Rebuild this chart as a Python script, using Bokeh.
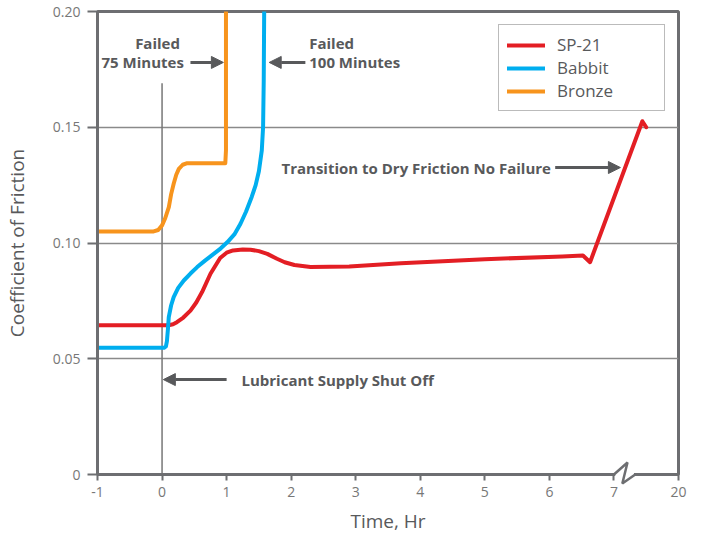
from bokeh.plotting import figure
from bokeh.models import (Range1d, FixedTicker, Legend, LegendItem, Label, Arrow,
                          NormalHead)
from bokeh.embed import file_html
from bokeh.resources import INLINE

# ---------------- data ----------------
sp21_x = [-1, 0.10, 0.17, 0.23, 0.33, 0.44, 0.53, 0.62, 0.75, 0.90, 1.00, 1.10, 1.25, 1.37,
          1.50, 1.63, 1.78, 1.90, 2.05, 2.30, 2.90, 3.70, 5.00, 6.20, 6.52, 6.63, 7.44, 7.50]
sp21_y = [0.0645, 0.0645, 0.0649, 0.0658, 0.0678, 0.0708, 0.0743, 0.0788, 0.0867, 0.0935,
          0.0958, 0.0968, 0.0972, 0.0971, 0.0965, 0.0953, 0.0932, 0.0917, 0.0905, 0.0896,
          0.0898, 0.0913, 0.0930, 0.0942, 0.0946, 0.0917, 0.1526, 0.1500]

babbit_x = [-1, 0.03, 0.06, 0.075, 0.09, 0.104, 0.14, 0.18, 0.25, 0.337, 0.44, 0.544, 0.67,
            0.80, 0.91, 1.01, 1.12, 1.215, 1.30, 1.39, 1.45, 1.50, 1.545, 1.565, 1.575, 1.582]
babbit_y = [0.0547, 0.0547, 0.0553, 0.0575, 0.0625, 0.0680, 0.0730, 0.0766, 0.0806, 0.0838,
            0.0868, 0.0896, 0.0925, 0.0953, 0.0977, 0.1003, 0.1037, 0.1083, 0.1135, 0.1200,
            0.1250, 0.1310, 0.1400, 0.1500, 0.1700, 0.2000]

bronze_x = [-1, -0.13, -0.06, 0.0, 0.05, 0.105, 0.14, 0.18, 0.22, 0.26, 0.32, 0.39, 0.98, 0.99, 0.99]
bronze_y = [0.1050, 0.1050, 0.1056, 0.1076, 0.1108, 0.1155, 0.1210, 0.1256, 0.1295, 0.1320,
            0.1338, 0.1345, 0.1345, 0.1400, 0.2000]

x_ticks = [-1, 0, 1, 2, 3, 4, 5, 6, 7, 8]
x_tick_labels = ["-1", "0", "1", "2", "3", "4", "5", "6", "7", "20"]
y_ticks = [0, 0.05, 0.10, 0.15, 0.20]
y_tick_labels = ["0", "0.05", "0.10", "0.15", "0.20"]

series_names = ["SP-21", "Babbit", "Bronze"]
series_colors = ["#E31E24", "#00AEEF", "#F7941D"]

FONT = "Open Sans"
AX = "#6D6E71"
TXT = "#58595B"

p = figure(width=685, height=533, output_backend="svg", toolbar_location=None,
           x_range=Range1d(-1, 8), y_range=Range1d(0, 0.2),
           min_border_left=89, min_border_right=15, min_border_top=11, min_border_bottom=59)
p.frame_width = 581
p.frame_height = 463

p.outline_line_color = AX
p.outline_line_width = 3
p.background_fill_color = "white"
p.border_fill_color = "white"

p.xgrid.visible = False
p.ygrid.ticker = FixedTicker(ticks=[0.05, 0.10, 0.15])
p.ygrid.grid_line_color = "#8A8A8A"
p.ygrid.grid_line_width = 1.5

p.xaxis.ticker = FixedTicker(ticks=x_ticks)
p.xaxis.major_label_overrides = {t: l for t, l in zip(x_ticks, x_tick_labels)}
p.yaxis.ticker = FixedTicker(ticks=y_ticks)
p.yaxis.major_label_overrides = {t: l for t, l in zip(y_ticks, y_tick_labels)}

for ax in (p.xaxis[0], p.yaxis[0]):
    ax.axis_line_color = AX
    ax.axis_line_width = 3
    ax.major_tick_line_color = AX
    ax.major_tick_line_width = 2
    ax.major_tick_in = 0
    ax.minor_tick_line_color = None
    ax.major_label_text_font = FONT
    ax.major_label_text_font_size = "14px"
    ax.major_label_text_color = "#777777"
    ax.axis_label_text_font = FONT
    ax.axis_label_text_font_size = "19px"
    ax.axis_label_text_font_style = "normal"
    ax.axis_label_text_color = TXT

p.xaxis.major_tick_out = 6
p.xaxis.major_label_standoff = 6
p.xaxis.axis_label = "Time, Hr"
p.xaxis.axis_label_standoff = 8
p.yaxis.major_tick_out = 10
p.yaxis.major_label_standoff = 7
p.yaxis.axis_label = "Coefficient of Friction"
p.yaxis.axis_label_standoff = 20

# vertical marker at shut off
p.segment(x0=[0], y0=[0], x1=[0], y1=[0.169], line_color="#777777", line_width=1.5)

# axis break
p.quad(left=[7.02], right=[7.31], bottom=[-0.003], top=[0.003], fill_color="white",
       line_color=None, level="overlay")
p.line(x=[7.0, 7.21, 7.13, 7.33], y=[0, 0.0052, -0.0039, 0], line_color=AX, line_width=2.5,
       level="overlay")

renderers = []
for xs, ys, c in zip([sp21_x, babbit_x, bronze_x], [sp21_y, babbit_y, bronze_y], series_colors):
    r = p.line(xs, ys, line_color=c, line_width=4, line_join="round", line_cap="round")
    renderers.append(r)

legend = Legend(items=[LegendItem(label=n, renderers=[r]) for n, r in zip(series_names, renderers)],
                location=(401, 363), margin=0, padding=8, spacing=0,
                glyph_width=38, glyph_height=20, label_height=20, label_width=99,
                label_standoff=12, border_line_color="#777777", border_line_width=1.5,
                label_text_font=FONT, label_text_font_size="17px", label_text_color=TXT,
                background_fill_alpha=1)
p.add_layout(legend)

def lab(x, y, text, align="left"):
    p.add_layout(Label(x=x, y=y, text=text, text_font=FONT, text_font_size="15px",
                       text_font_style="bold", text_color=TXT, text_align=align,
                       text_baseline="middle"))

def arr(x0, x1, y):
    p.add_layout(Arrow(x_start=x0, y_start=y, x_end=x1, y_end=y, line_color=TXT, line_width=3,
                       end=NormalHead(size=12, fill_color=TXT, line_color=TXT)))

lab(-0.07, 0.1862, "Failed", "center")
lab(-0.30, 0.178, "75 Minutes", "center")
arr(0.44, 0.95, 0.178)
lab(2.28, 0.1862, "Failed")
lab(2.28, 0.178, "100 Minutes")
arr(2.22, 1.66, 0.178)
lab(1.85, 0.1326, "Transition to Dry Friction No Failure")
arr(6.09, 7.10, 0.1326)
lab(1.23, 0.041, "Lubricant Supply Shut Off")
arr(1.0, 0.02, 0.041)

open("out.html", "w").write(file_html(p, INLINE))
